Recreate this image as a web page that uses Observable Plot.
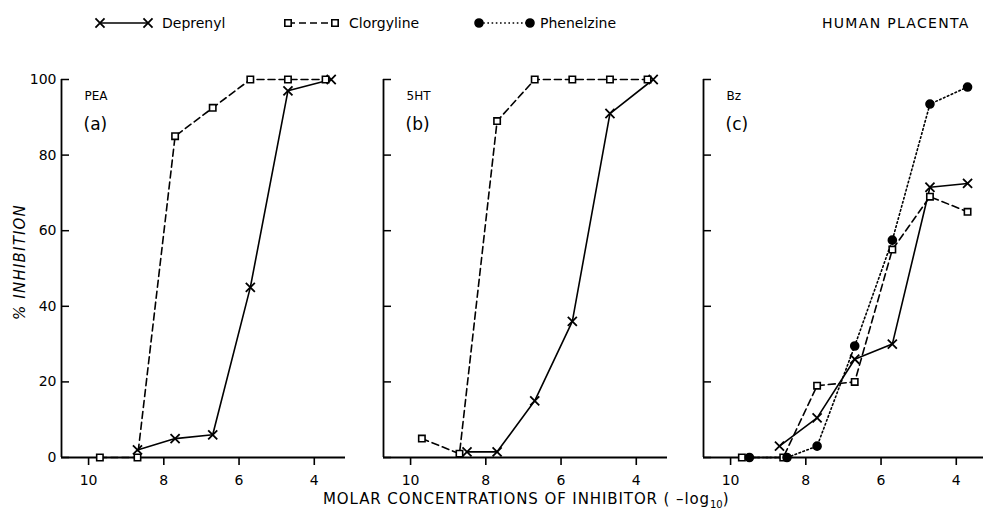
<!DOCTYPE html>
<html>
<head>
<meta charset="utf-8">
<script src="https://cdn.jsdelivr.net/npm/d3@7"></script>
<script src="https://cdn.jsdelivr.net/npm/@observablehq/plot@0.6"></script>
<style>
  html, body { margin: 0; padding: 0; background: #fff; }
  #chart { position: relative; width: 983px; height: 514px; overflow: hidden; background: #fff;
           font-family: "DejaVu Sans", sans-serif; color: #000; }
  #chart svg.panel { position: absolute; top: 0; }
  #chart svg [aria-label="x-axis"] line,
  #chart svg [aria-label="x-axis tick"] { stroke-width: 1.6px; }
  .ylabel { position: absolute; left: 20px; top: 262px; transform: translate(-50%, -50%) rotate(-90deg);
            font-style: italic; font-size: 15px; letter-spacing: 1.2px; white-space: nowrap; }
  .xlabel { position: absolute; left: 323px; top: 490px; font-size: 15px; letter-spacing: 0.9px; white-space: nowrap; }
  .xlabel sub { font-size: 10px; letter-spacing: 0; }
</style>
</head>
<body>
<div id="chart"></div>
<script>
// Inhibition of MAO activity in human placenta by three inhibitors,
// measured with three substrates.
const drugs = ["Deprenyl", "Clorgyline", "Phenelzine"];
const substrates = ["PEA", "5HT", "Bz"];
const panelTags = ["(a)", "(b)", "(c)"];
const xTicks = [10, 8, 6, 4];
const yTicks = [0, 20, 40, 60, 80, 100];

// molar concentration (-log10) and % inhibition
const peaDeprenylConc = [8.7, 7.7, 6.7, 5.7, 4.7, 3.55];
const peaDeprenylInh = [2, 5, 6, 45, 97, 100];
const peaClorgylineConc = [9.7, 8.7, 7.7, 6.7, 5.7, 4.7, 3.7];
const peaClorgylineInh = [0, 0, 85, 92.5, 100, 100, 100];

const htDeprenylConc = [8.5, 7.7, 6.7, 5.7, 4.7, 3.55];
const htDeprenylInh = [1.5, 1.5, 15, 36, 91, 100];
const htClorgylineConc = [9.7, 8.7, 7.7, 6.7, 5.7, 4.7, 3.7];
const htClorgylineInh = [5, 1, 89, 100, 100, 100, 100];

const bzDeprenylConc = [8.7, 7.7, 6.7, 5.7, 4.7, 3.7];
const bzDeprenylInh = [3, 10.5, 26, 30, 71.5, 72.5];
const bzClorgylineConc = [9.7, 8.6, 7.7, 6.7, 5.7, 4.7, 3.7];
const bzClorgylineInh = [0, 0, 19, 20, 55, 69, 65];
const bzPhenelzineConc = [9.5, 8.5, 7.7, 6.7, 5.7, 4.7, 3.7];
const bzPhenelzineInh = [0, 0, 3, 29.5, 57.5, 93.5, 98];

const xDomain = [10.72, 3.17];

const drugStyle = {
  Deprenyl:   {dash: null,      symbol: "times",  fill: "none",  r: 4.2, sw: 1.8},
  Clorgyline: {dash: "7,4",     symbol: "square", fill: "white", r: 3.6, sw: 1.6},
  Phenelzine: {dash: "1.6,2.6", symbol: "circle", fill: "black", r: 4,   sw: 1.6}
};

function rows(drug, conc, inh) {
  return conc.map((c, i) => ({drug, conc: c, inh: inh[i]}));
}

const panelSeries = [
  [rows("Deprenyl", peaDeprenylConc, peaDeprenylInh), rows("Clorgyline", peaClorgylineConc, peaClorgylineInh)],
  [rows("Deprenyl", htDeprenylConc, htDeprenylInh), rows("Clorgyline", htClorgylineConc, htClorgylineInh)],
  [rows("Deprenyl", bzDeprenylConc, bzDeprenylInh), rows("Clorgyline", bzClorgylineConc, bzClorgylineInh),
   rows("Phenelzine", bzPhenelzineConc, bzPhenelzineInh)]
];

const frameLefts = [61, 383, 703];
const frameWidth = 284;
const mL = 45, mR = 12;
const chart = document.getElementById("chart");

panelSeries.forEach((series, p) => {
  const marks = [
    Plot.ruleY([0], {strokeWidth: 1.8}),
    Plot.ruleX([xDomain[0]], {y1: 0, y2: 100, strokeWidth: 1.8}),
    Plot.ruleY(yTicks, {insetRight: frameWidth - 8, strokeWidth: 1.5})
  ];
  for (const s of series) {
    const st = drugStyle[s[0].drug];
    marks.push(Plot.line(s, {x: "conc", y: "inh", stroke: "black", strokeWidth: 1.6,
      strokeDasharray: st.dash}));
  }
  for (const s of series) {
    const st = drugStyle[s[0].drug];
    marks.push(Plot.dot(s, {x: "conc", y: "inh", symbol: () => st.symbol, r: st.r,
      stroke: "black", fill: st.fill, strokeWidth: st.sw}));
  }
  marks.push(Plot.text([substrates[p]], {frameAnchor: "top-left", dx: 23, dy: 12,
    textAnchor: "start", fontSize: 12}));
  marks.push(Plot.text([panelTags[p]], {frameAnchor: "top-left", dx: 22, dy: 38,
    textAnchor: "start", fontSize: 17}));

  const svg = Plot.plot({
    width: mL + frameWidth + mR,
    height: 514,
    marginLeft: mL, marginRight: mR, marginTop: 79, marginBottom: 57,
    x: {domain: xDomain, ticks: xTicks, tickSize: 8, tickPadding: 10, tickFormat: d => String(d), label: null},
    y: {domain: [0, 100], ticks: yTicks, tickSize: 0, tickPadding: 5, label: null,
        axis: p === 0 ? "left" : null},
    symbol: {type: "identity"},
    style: {fontFamily: "DejaVu Sans, sans-serif", fontSize: "14px", color: "black",
            background: "transparent", overflow: "visible"},
    marks
  });
  svg.classList.add("panel");
  svg.style.left = (frameLefts[p] - mL) + "px";
  chart.appendChild(svg);
});

// legend across the top
const legend = d3.select(chart).append("svg")
  .attr("width", 983).attr("height", 40)
  .style("position", "absolute").style("left", 0).style("top", 0)
  .style("font-family", "DejaVu Sans, sans-serif").style("font-size", "14px");

const legendItems = [
  {drug: "Deprenyl", x0: 100, x1: 148, tx: 162},
  {drug: "Clorgyline", x0: 288, x1: 335, tx: 349},
  {drug: "Phenelzine", x0: 479, x1: 530, tx: 540}
];
const symbolType = {times: d3.symbolTimes, square: d3.symbolSquare, circle: d3.symbolCircle};
const ly = 23;
for (const item of legendItems) {
  const st = drugStyle[item.drug];
  legend.append("line").attr("x1", item.x0).attr("x2", item.x1).attr("y1", ly).attr("y2", ly)
    .attr("stroke", "black").attr("stroke-width", 1.6).attr("stroke-dasharray", st.dash);
  for (const x of [item.x0, item.x1]) {
    legend.append("path")
      .attr("transform", `translate(${x},${ly})`)
      .attr("d", d3.symbol(symbolType[st.symbol], Math.PI * st.r * st.r)())
      .attr("stroke", "black").attr("stroke-width", st.sw).attr("fill", st.fill);
  }
  legend.append("text").attr("x", item.tx).attr("y", ly).attr("dy", "0.35em").text(item.drug);
}
legend.append("text").attr("x", 822).attr("y", ly).attr("dy", "0.35em")
  .attr("letter-spacing", "1.3px").text("HUMAN PLACENTA");

// axis titles
const yl = document.createElement("div");
yl.className = "ylabel";
yl.textContent = "% INHIBITION";
chart.appendChild(yl);

const xl = document.createElement("div");
xl.className = "xlabel";
xl.innerHTML = "MOLAR CONCENTRATIONS OF INHIBITOR ( \u2013log<sub>10</sub>)";
chart.appendChild(xl);
</script>
</body>
</html>
